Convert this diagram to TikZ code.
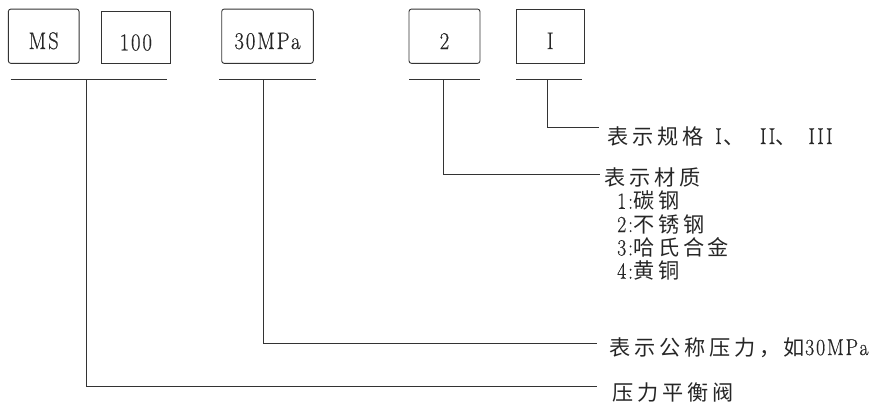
\documentclass[tikz,border=0pt]{standalone}
\usepackage{fontspec}
\setmainfont{Latin Modern Roman}[FakeStretch=0.86, LetterSpace=8, FakeBold=0.5]
\newfontfamily\cjk[Scale=0.92, LetterSpace=18]{Noto Sans CJK SC}
\begin{document}
\begin{tikzpicture}[x=1pt,y=-1pt,
    codebox/.style={draw=black!80, line width=0.9pt, text=black!85,
        font=\fontsize{24}{24}\selectfont, inner sep=0pt,
        text height=25.6pt, text depth=0pt, minimum height=54.3pt},
    roundbox/.style={codebox, rounded corners=2.5pt},
    rule/.style={draw=black!80, line width=0.9pt},
    note/.style={anchor=base west, inner sep=0pt, text=black!85,
        font=\fontsize{23}{25}\selectfont}]
\useasboundingbox (0,0) rectangle (883,405);
% code boxes
\node[roundbox, minimum width=70.7pt] (ms) at (43.7,36.2) {MS};
\node[codebox, minimum width=68.3pt, minimum height=51.6pt] (num) at (135.8,37.5) {100};
\node[roundbox, minimum width=91.6pt] (mpa) at (267.5,36.2) {30MPa};
\node[roundbox, minimum width=71pt] (mat) at (444.5,36.2) {2};
\node[codebox, minimum width=68.3pt] (spec) at (550.2,36.2) {I};
% bars under the boxes
\foreach \n/\l/\r/\s in {1/10.7/167.3/86.7, 2/219/316/263.5, 3/409/480/443.3, 4/516/581.7/547.7}
{   \draw[rule] (\l,79) -- (\r,79);
    \coordinate (s\n) at (\s,79);
}
\coordinate (e4) at (599,127.4);
\coordinate (e3) at (600,174.3);
\coordinate (e2) at (597,343.3);
\coordinate (e1) at (597,386.8);
\draw[rule] (s4) |- (e4);
\draw[rule] (s3) |- (e3);
\draw[rule] (s2) |- (e2);
\draw[rule] (s1) |- (e1);
% notes
\node[note] (n4) at (607,144) {{\cjk 表示规格}\hspace{12pt}I\hspace{2pt}{\cjk 、}\hspace{15pt}II{\cjk 、}\hspace{12pt}III};
\node[note] (n3) at (604,185.5) {\cjk 表示材质};
\foreach \k/\t in {1/碳钢, 2/不锈钢, 3/哈氏合金, 4/黄铜}
{   \node[note] (m\k) at (617,185.5+23.3*\k) {\k:{\cjk \t}}; }
\node[note] (n2) at (609,355) {{\cjk 表示公称压力，如}30MPa};
\node[note] (n1) at (612,400) {\cjk 压力平衡阀};
\end{tikzpicture}
\end{document}
